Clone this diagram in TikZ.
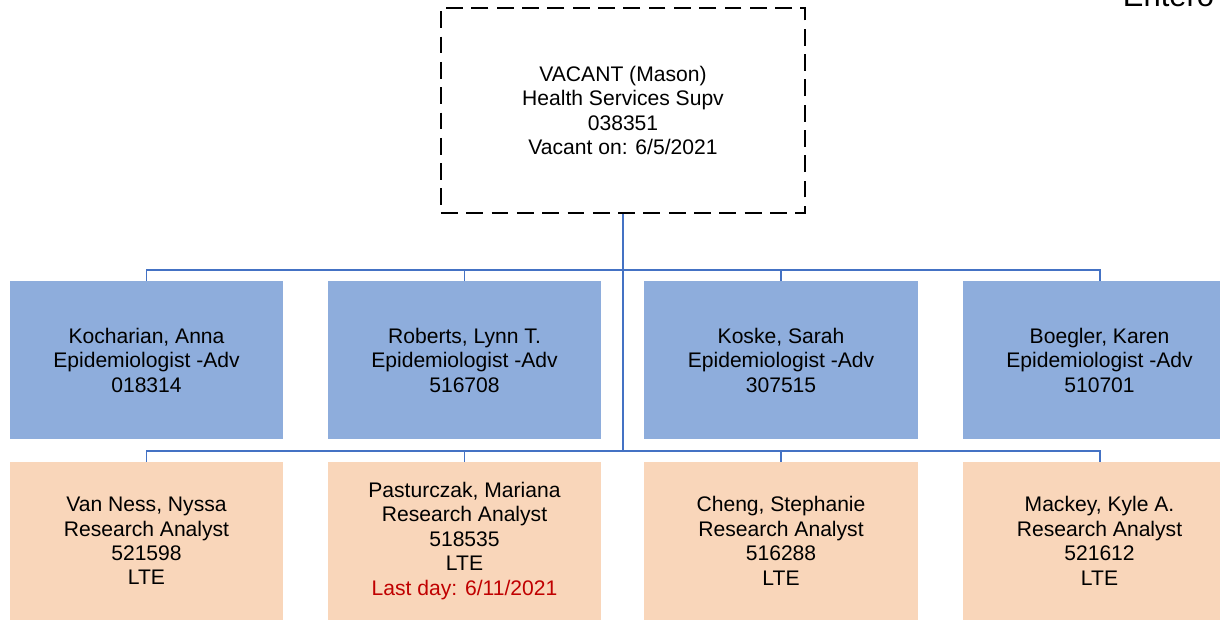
\documentclass[tikz,border=0pt]{standalone}
\usepackage{fontspec}
\setmainfont{Liberation Sans}
\definecolor{linie}{HTML}{4472C4}
\definecolor{epiblau}{HTML}{8EADDC}
\definecolor{pfirsich}{HTML}{F9D6BA}
\definecolor{datumrot}{HTML}{C00000}
\tikzset{
  stelle/.style={align=center,inner sep=0pt,minimum width=6.825cm,minimum height=3.95cm,
    font=\fontsize{15pt}{17.4pt}\selectfont},
  epi/.style={stelle,fill=epiblau},
  lte/.style={stelle,fill=pfirsich},
  vakant/.style={stelle,draw=black,dash pattern=on 12pt off 6pt,line width=2pt,
    minimum width=9.1cm,minimum height=5.125cm},
  link/.style={linie,line width=1.4pt},
}

\begin{document}
\begin{tikzpicture}[x=0.025cm,y=-0.025cm]
  \useasboundingbox (0,0) rectangle (1220,620);
  \clip (0,0) rectangle (1220,620);
  \node[font=\fontsize{22pt}{26pt}\selectfont,anchor=base west] (titel) at (1118,6) {Entero};
  \node[vakant] (sup) at (623,110.5) {VACANT (Mason)\\Health Services Supv\\038351\\Vacant on: 6/5/2021};
  % Epidemiologen
  \node[epi] (ep1) at (146.5,360) {Kocharian, Anna\\Epidemiologist -Adv\\018314};
  \node[epi] (ep2) at (464.5,360) {Roberts, Lynn T.\\Epidemiologist -Adv\\516708};
  \node[epi] (ep3) at (781,360) {Koske, Sarah\\Epidemiologist -Adv\\307515};
  \node[epi] (ep4) at (1099.5,360) {Boegler, Karen\\Epidemiologist -Adv\\510701};
  % Research Analysts
  \node[lte] (ra1) at (146.5,541) {Van Ness, Nyssa\\Research Analyst\\521598\\LTE};
  \node[lte] (ra2) at (464.5,541) {Pasturczak, Mariana\\Research Analyst\\518535\\LTE\\\textcolor{datumrot}{Last day: 6/11/2021}};
  \node[lte] (ra3) at (781,541) {Cheng, Stephanie\\Research Analyst\\516288\\LTE};
  \node[lte] (ra4) at (1099.5,541) {Mackey, Kyle A.\\Research Analyst\\521612\\LTE};
  \coordinate (busa) at (623,270);
  \coordinate (busb) at (623,451);
  \draw[link] (sup.south) -- (busb);
  \foreach \n in {ep1,ep2,ep3,ep4} \draw[link] (\n.north) |- (busa);
  \foreach \n in {ra1,ra2,ra3,ra4} \draw[link] (\n.north) |- (busb);
\end{tikzpicture}
\end{document}
